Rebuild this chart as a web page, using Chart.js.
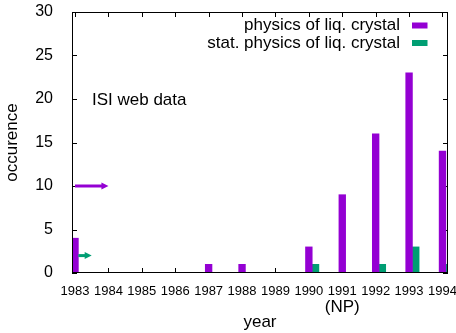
<!DOCTYPE html>
<html>
<head>
<meta charset="utf-8">
<script src="https://cdn.jsdelivr.net/npm/chart.js@4"></script>
<style>
  html, body { margin: 0; padding: 0; background: #fff; }
  #wrap { width: 456px; height: 333px; position: relative; }
</style>
</head>
<body>
<div id="wrap"><canvas id="chart"></canvas></div>
<script>
  // data
  const years = [1983, 1984, 1985, 1986, 1987, 1988, 1989, 1990, 1991, 1992, 1993, 1994];
  const tickLabels = ['1983', '1984', '1985', '1986', '1987', '1988', '1989', '1990', '1991', '1992', '1993', '1994'];
  const subLabels = { 1991: '(NP)' };
  const physics = [4, 0, 0, 0, 1, 1, 0, 3, 9, 16, 23, 14];
  const statPhysics = [0, 0, 0, 0, 0, 0, 0, 1, 0, 1, 3, 1];
  const seriesNames = ['physics of liq. crystal', 'stat. physics of liq. crystal'];
  const arrows = [
    { from: 1983, to: 1984, y: 10, series: 0 },
    { from: 1983.1, to: 1983.5, y: 2, series: 1 }
  ];
  const note = 'ISI web data';

  const colors = ['#9400d3', '#009e73'];
  const FONT = '"Liberation Sans", Arial, Helvetica, sans-serif';
  const shift = 0.2; // second series sits just right of the year

  const frame = {
    id: 'frame',
    beforeDatasetsDraw(chart) {
      const { ctx, chartArea: a, scales: { x, y } } = chart;
      ctx.save();
      // inward ticks on all sides (bars paint over them)
      const t = 5;
      ctx.strokeStyle = '#000';
      ctx.lineWidth = 1;
      ctx.beginPath();
      years.forEach(v => {
        const px = Math.round(x.getPixelForValue(v)) + 0.5;
        ctx.moveTo(px, a.bottom); ctx.lineTo(px, a.bottom - t);
        ctx.moveTo(px, a.top); ctx.lineTo(px, a.top + t);
      });
      y.ticks.forEach(tk => {
        const py = Math.round(y.getPixelForValue(tk.value)) + 0.5;
        ctx.moveTo(a.left, py); ctx.lineTo(a.left + t, py);
        ctx.moveTo(a.right, py); ctx.lineTo(a.right - t, py);
      });
      ctx.stroke();
      ctx.restore();
    },
    afterDatasetsDraw(chart) {
      const { ctx, chartArea: a, scales: { x, y } } = chart;
      ctx.save();
      // border
      ctx.strokeStyle = '#000';
      ctx.lineWidth = 1;
      ctx.strokeRect(Math.round(a.left) + 0.5, Math.round(a.top) + 0.5,
        Math.round(a.right - a.left) - 1, Math.round(a.bottom - a.top) - 1);

      // arrows
      arrows.forEach(ar => {
        const x0 = x.getPixelForValue(ar.from), x1 = x.getPixelForValue(ar.to);
        const py = y.getPixelForValue(ar.y);
        ctx.strokeStyle = colors[ar.series];
        ctx.fillStyle = colors[ar.series];
        ctx.lineWidth = 3;
        ctx.beginPath();
        ctx.moveTo(x0, py); ctx.lineTo(x1 - 5, py);
        ctx.stroke();
        ctx.beginPath();
        ctx.moveTo(x1, py); ctx.lineTo(x1 - 7, py - 3.5); ctx.lineTo(x1 - 7, py + 3.5);
        ctx.closePath();
        ctx.fill();
      });

      // key, gnuplot style: text right aligned, swatch after
      ctx.font = '17px ' + FONT;
      ctx.textAlign = 'right';
      ctx.textBaseline = 'middle';
      chart.data.datasets.forEach((ds, i) => {
        const cy = 25.5 + i * 17.5;
        ctx.fillStyle = '#000';
        ctx.fillText(ds.label, 400, cy);
        ctx.fillStyle = ds.backgroundColor;
        ctx.fillRect(412, cy - 3, 15.5, 6);
      });

      // second line under a year label
      ctx.fillStyle = '#000';
      ctx.textAlign = 'center';
      Object.keys(subLabels).forEach(k => {
        ctx.fillText(subLabels[k], x.getPixelForValue(+k), 307);
      });

      // annotation
      ctx.textAlign = 'left';
      ctx.fillText(note, 92, 100);
      ctx.restore();
    }
  };

  new Chart(document.getElementById('chart'), {
    type: 'bar',
    data: {
      datasets: [
        {
          label: seriesNames[0],
          data: years.map((yr, i) => ({ x: yr, y: physics[i] })),
          backgroundColor: colors[0]
        },
        {
          label: seriesNames[1],
          data: years.map((yr, i) => ({ x: yr + shift, y: statPhysics[i] })),
          backgroundColor: colors[1]
        }
      ]
    },
    options: {
      responsive: true,
      maintainAspectRatio: false,
      animation: false,
      devicePixelRatio: 1,
      layout: { padding: { top: 12, right: 8, left: 0, bottom: 0 } },
      datasets: { bar: { grouped: false, barThickness: 6.7, clip: 0, borderWidth: 0 } },
      plugins: { legend: { display: false }, tooltip: { enabled: false } },
      scales: {
        x: {
          type: 'linear',
          offset: false,
          min: 1982.91,
          max: 1994.165,
          grid: { display: false },
          border: { display: false },
          afterBuildTicks: s => { s.ticks = years.map(v => ({ value: v })); },
          afterFit: s => { s.height = 60; s.paddingLeft = 0; s.paddingRight = 0; },
          ticks: {
            autoSkip: false,
            maxRotation: 0,
            padding: 3,
            color: '#000',
            font: { family: FONT, size: 13 },
            callback: (v) => tickLabels[years.indexOf(v)]
          },
          title: {
            display: true, text: 'year', color: '#000',
            font: { family: FONT, size: 17 },
            padding: { top: 3, bottom: 0 }
          }
        },
        y: {
          min: 0,
          max: 30,
          grid: { display: false },
          border: { display: false },
          afterFit: s => { s.width = 72; s.paddingTop = 0; s.paddingBottom = 0; },
          ticks: {
            stepSize: 5,
            padding: 11,
            color: '#000',
            font: { family: FONT, size: 16 }
          },
          title: {
            display: true, text: 'occurence', color: '#000',
            font: { family: FONT, size: 17 },
            padding: { top: 2, bottom: 0 }
          }
        }
      }
    },
    plugins: [frame]
  });
</script>
</body>
</html>
